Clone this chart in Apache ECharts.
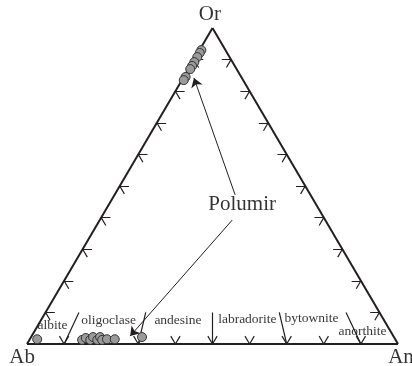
<!DOCTYPE html>
<html>
<head>
<meta charset="utf-8">
<script src="https://cdn.jsdelivr.net/npm/echarts@6/dist/echarts.min.js"></script>
<style>
  html, body { margin: 0; padding: 0; background: #fff; }
  #chart { width: 412px; height: 366px; }
</style>
</head>
<body>
<div id="chart"></div>
<script>
// feldspar compositions, fractions of An and Or (Ab = rest)
const orFeldsparAn = [0.005, 0.005, 0.005, 0.005, 0.005, 0.005, 0.005, 0.005];
const orFeldsparOr = [0.930, 0.921, 0.908, 0.892, 0.880, 0.870, 0.845, 0.835];
const plagAn = [0.02, 0.142, 0.149, 0.164, 0.167, 0.183, 0.186, 0.196, 0.208, 0.229, 0.299];
const plagOr = [0.015, 0.013, 0.019, 0.013, 0.022, 0.013, 0.022, 0.013, 0.015, 0.015, 0.022];

// plagioclase series boundaries (An fraction)
const boundaryAn = [0.1, 0.3, 0.5, 0.7, 0.9];
const zoneNames = ['albite', 'oligoclase', 'andesine', 'labradorite', 'bytownite', 'anorthite'];
const zoneX = [0.069, 0.220, 0.407, 0.594, 0.767, 0.904];
const zoneY = [0.060, 0.076, 0.076, 0.079, 0.082, 0.041];

const apexNames = ['Ab', 'An', 'Or'];
const apexX = [-0.013, 1.008, 0.493];
const apexY = [-0.044, -0.044, 1.044];

// "Polumir" annotation (plot coords)
const noteX = 0.580, noteY = 0.44;
const arrowFrom = [[0.561, 0.472], [0.553, 0.392]];
const arrowTo = [[0.450, 0.842], [0.278, 0.025]];

function tern(an, or) {
    return [an + or / 2, or];
}

// triangle + ticks
const frame = [
    { coords: [tern(0, 0), tern(1, 0)] },
    { coords: [tern(1, 0), tern(0, 1)] },
    { coords: [tern(0, 1), tern(0, 0)] }
];
const ticks = [];
const t = 0.025;
for (let k = 1; k <= 9; k++) {
    const f = k / 10;
    // Ab-Or side
    ticks.push({ coords: [tern(0, f), tern(t, f)] });
    ticks.push({ coords: [tern(0, f), tern(t, f - t)] });
    // An-Or side
    ticks.push({ coords: [tern(1 - f, f), tern(1 - f - t, f)] });
    ticks.push({ coords: [tern(1 - f, f), tern(1 - f, f - t)] });
    // Ab-An side
    ticks.push({ coords: [tern(f, 0), tern(f - t, t)] });
    ticks.push({ coords: [tern(f, 0), tern(f, t)] });
}
boundaryAn.forEach(a => {
    ticks.push({ coords: [tern(a, 0), tern(a * 0.9, 0.1)] });
});

const arrows = arrowFrom.map((p, i) => ({ coords: [p, arrowTo[i]] }));

const textFont = '"Liberation Serif", "Times New Roman", serif';
const labelData = [];
zoneNames.forEach((n, i) => labelData.push({ value: [zoneX[i], zoneY[i]], name: n, fs: 13.5 }));
apexNames.forEach((n, i) => labelData.push({ value: [apexX[i], apexY[i]], name: n, fs: 21 }));
labelData.push({ value: [noteX, noteY], name: 'Polumir', fs: 21 });

const option = {
    animation: false,
    grid: { left: 27, right: 14, top: 28, bottom: 22 },
    xAxis: { type: 'value', min: 0, max: 1, show: false },
    yAxis: { type: 'value', min: 0, max: 1, show: false },
    series: [
        {
            type: 'lines',
            coordinateSystem: 'cartesian2d',
            data: frame,
            lineStyle: { color: '#231f20', width: 2, opacity: 1 },
            silent: true
        },
        {
            type: 'lines',
            coordinateSystem: 'cartesian2d',
            data: ticks,
            lineStyle: { color: '#231f20', width: 1.2, opacity: 1 },
            silent: true
        },
        {
            type: 'lines',
            coordinateSystem: 'cartesian2d',
            data: arrows,
            symbol: ['none', 'arrow'],
            symbolSize: 9,
            lineStyle: { color: '#231f20', width: 1, opacity: 1 },
            silent: true
        },
        {
            type: 'scatter',
            data: orFeldsparAn.map((a, i) => tern(a, orFeldsparOr[i]))
                .concat(plagAn.map((a, i) => tern(a, plagOr[i]))),
            symbolSize: 9,
            itemStyle: { color: '#9a9a9a', borderColor: '#333', borderWidth: 1, opacity: 1 },
            clip: false,
            z: 5
        },
        {
            type: 'scatter',
            data: labelData.map(d => ({
                value: d.value,
                name: d.name,
                label: { fontSize: d.fs }
            })),
            symbolSize: 0,
            clip: false,
            label: {
                show: true,
                position: 'inside',
                formatter: p => p.name,
                color: '#000',
                fontFamily: textFont
            },
            z: 6
        }
    ]
};

const myChart = echarts.init(document.getElementById('chart'));
myChart.setOption(option);
window.addEventListener('resize', myChart.resize);
</script>
</body>
</html>
